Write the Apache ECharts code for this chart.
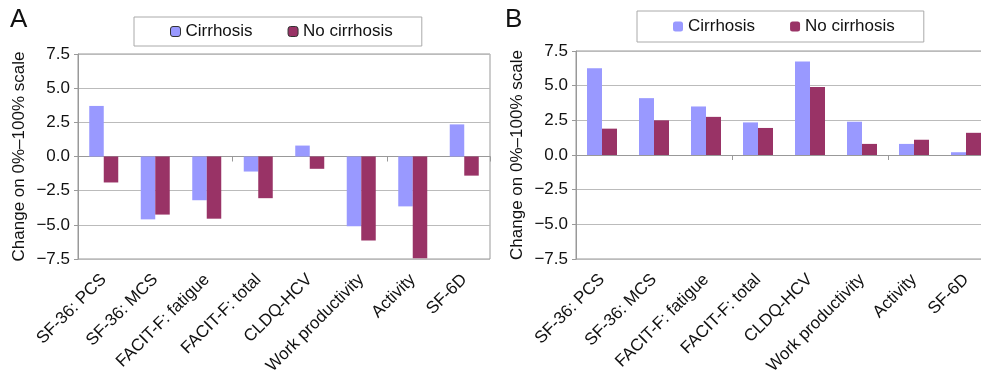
<!DOCTYPE html>
<html>
<head>
<meta charset="utf-8">
<script src="https://cdn.jsdelivr.net/npm/echarts@6/dist/echarts.min.js"></script>
<style>
  html, body { margin: 0; padding: 0; background: #fff; }
  #chart { width: 981px; height: 377px; }
</style>
</head>
<body>
<div id="chart"></div>
<script>
// categories shared by both panels
const categories = ['SF-36: PCS', 'SF-36: MCS', 'FACIT-F: fatigue', 'FACIT-F: total',
  'CLDQ-HCV', 'Work productivity', 'Activity', 'SF-6D']
// panel A
const cirrhosisA = [3.7, -4.6, -3.2, -1.1, 0.8, -5.1, -3.65, 2.35]
const noCirrhosisA = [-1.9, -4.25, -4.55, -3.05, -0.9, -6.15, -7.45, -1.4]
// panel B
const cirrhosisB = [6.25, 4.1, 3.5, 2.35, 6.75, 2.4, 0.8, 0.2]
const noCirrhosisB = [1.9, 2.5, 2.75, 1.95, 4.9, 0.8, 1.1, 1.6]
const yTicks = { min: -7.5, max: 7.5, interval: 2.5 }

const FONT = 'Liberation Sans, Arial, sans-serif'
const C1 = '#9999ff'
const C2 = '#993366'

const grids = [
  { left: 78, top: 54, width: 412, height: 205 },
  { left: 576, top: 51, width: 416, height: 208 }
]

function yFmt(v) {
  return (v < 0 ? '\u2212' : '') + Math.abs(v).toFixed(1)
}

const option = {
  animation: false,
  textStyle: { fontFamily: FONT, color: '#111' },
  grid: grids.map(g => Object.assign({
    show: true, borderColor: '#999', borderWidth: 1, outerBoundsMode: 'none', containLabel: false
  }, g)),
  legend: [
    {
      left: 134, top: 17, padding: [6, 29, 6, 36], itemGap: 35,
      itemWidth: 10, itemHeight: 10, borderColor: '#aaa', borderWidth: 1,
      textStyle: { fontSize: 17, fontFamily: FONT, color: '#111' },
      data: [
        { name: 'Cirrhosis', itemStyle: { borderColor: '#333', borderWidth: 1 } },
        { name: 'No cirrhosis', itemStyle: { borderColor: '#333', borderWidth: 1 } }
      ]
    },
    {
      left: 637, top: 11, padding: [7, 29, 7, 36], itemGap: 35,
      itemWidth: 10, itemHeight: 10, borderColor: '#aaa', borderWidth: 1,
      textStyle: { fontSize: 17, fontFamily: FONT, color: '#111' },
      data: ['Cirrhosis', 'No cirrhosis']
    }
  ],
  xAxis: [0, 1].flatMap(gi => [
    {
      gridIndex: gi, type: 'category', data: categories, position: 'bottom',
      axisLine: { show: false, onZero: false }, axisTick: { show: false },
      axisLabel: { rotate: 45, interval: 0, fontSize: 17, margin: 18, color: '#111', fontFamily: FONT }
    },
    {
      gridIndex: gi, type: 'category', data: categories, position: 'top',
      axisLine: { show: true, onZero: true, lineStyle: { color: '#999', width: 1 } },
      axisTick: { show: true, inside: true, length: 5, lineStyle: { color: '#999' } },
      axisLabel: { show: false }
    }
  ]),
  yAxis: [0, 1].map(gi => ({
    gridIndex: gi, type: 'value', min: yTicks.min, max: yTicks.max, interval: yTicks.interval,
    name: 'Change on 0%\u2013100% scale', nameLocation: 'middle', nameRotate: 90, nameGap: 50,
    nameTextStyle: { fontSize: 17, color: '#111', fontFamily: FONT },
    axisLine: { show: true, lineStyle: { color: '#999' } },
    axisTick: { show: true, length: 4, lineStyle: { color: '#999' } },
    axisLabel: { formatter: yFmt, fontSize: 17, margin: 8, color: '#111', fontFamily: FONT },
    splitLine: { lineStyle: { color: '#bbb', width: 1 } }
  })),
  series: [
    { name: 'Cirrhosis', type: 'bar', xAxisIndex: 0, yAxisIndex: 0, data: cirrhosisA,
      barWidth: 14.5, barGap: '0%', itemStyle: { color: C1 } },
    { name: 'No cirrhosis', type: 'bar', xAxisIndex: 0, yAxisIndex: 0, data: noCirrhosisA,
      barWidth: 14.5, barGap: '0%', itemStyle: { color: C2 } },
    { name: 'Cirrhosis', type: 'bar', xAxisIndex: 2, yAxisIndex: 1, data: cirrhosisB,
      barWidth: 15, barGap: '0%', itemStyle: { color: C1 } },
    { name: 'No cirrhosis', type: 'bar', xAxisIndex: 2, yAxisIndex: 1, data: noCirrhosisB,
      barWidth: 15, barGap: '0%', itemStyle: { color: C2 } }
  ],
  graphic: [
    { type: 'text', left: 10, top: 7, style: { text: 'A', fontSize: 26, fontFamily: FONT, fill: '#111' } },
    { type: 'text', left: 505, top: 7, style: { text: 'B', fontSize: 26, fontFamily: FONT, fill: '#111' } }
  ]
}

const myChart = echarts.init(document.getElementById('chart'))
myChart.setOption(option)
</script>
</body>
</html>
